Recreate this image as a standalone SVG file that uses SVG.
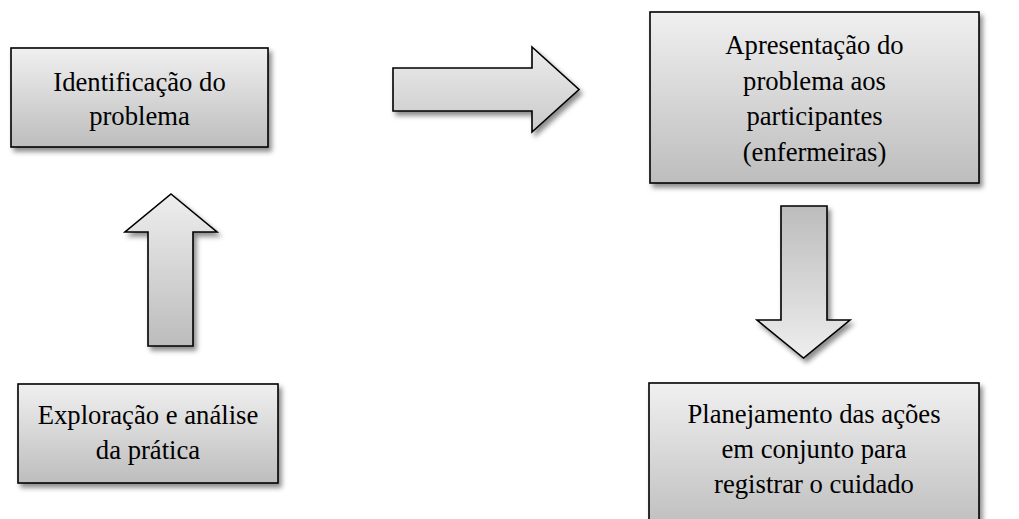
<svg xmlns="http://www.w3.org/2000/svg" width="1019" height="519" viewBox="0 0 1019 519">
<defs>
<linearGradient id="gBox" x1="0" y1="0" x2="0" y2="1">
<stop offset="0" stop-color="#f0f0f0"/>
<stop offset="1" stop-color="#bdbdbd"/>
</linearGradient>
<linearGradient id="gUp" x1="0" y1="0" x2="0" y2="1">
<stop offset="0" stop-color="#eeeeee"/>
<stop offset="1" stop-color="#bcbcbc"/>
</linearGradient>
<linearGradient id="gDown" x1="0" y1="0" x2="0" y2="1">
<stop offset="0" stop-color="#bcbcbc"/>
<stop offset="1" stop-color="#eeeeee"/>
</linearGradient>
<linearGradient id="gRight" x1="0" y1="0" x2="0" y2="1">
<stop offset="0" stop-color="#ececec"/>
<stop offset="1" stop-color="#cacaca"/>
</linearGradient>
<filter id="sh" x="-10%" y="-10%" width="130%" height="130%">
<feDropShadow dx="3" dy="4" stdDeviation="2.5" flood-color="#000" flood-opacity="0.45"/>
</filter>
</defs>
<style>
.box{stroke:#000;stroke-width:1.6;fill:url(#gBox);filter:url(#sh)}
.arr{stroke:#000;stroke-width:1.6;stroke-linejoin:miter;filter:url(#sh)}
text{font-family:'Liberation Serif','Times New Roman',serif;font-size:26.67px;fill:#000;text-anchor:middle}
</style>
<rect width="1019" height="519" fill="#ffffff"/>
<g id="connectors">
<polygon class="arr" fill="url(#gRight)" points="393,68 532,68 532,47 579,89.5 532,132 532,111 393,111"/>
<polygon class="arr" fill="url(#gUp)" points="171,194 217,232 193,232 193,346 148,346 148,232 125,232"/>
<polygon class="arr" fill="url(#gDown)" points="781,206 827,206 827,320 850,320 803.5,358 757,320 781,320"/>
</g>
<g id="node-identificacao">
<rect class="box" x="11" y="48" width="257" height="99"/>
<text x="139.5" y="91">Identificação do</text>
<text x="139.5" y="125">problema</text>
</g>
<g id="node-apresentacao">
<rect class="box" x="650" y="12" width="329" height="171"/>
<text x="814.5" y="54">Apresentação do</text>
<text x="814.5" y="89.5">problema aos</text>
<text x="814.5" y="125">participantes</text>
<text x="814.5" y="160.5">(enfermeiras)</text>
</g>
<g id="node-exploracao">
<rect class="box" x="18" y="384" width="260" height="99"/>
<text x="148" y="424">Exploração e análise</text>
<text x="148" y="459">da prática</text>
</g>
<g id="node-planejamento">
<rect class="box" x="649" y="383" width="330" height="150"/>
<text x="814" y="423">Planejamento das ações</text>
<text x="814" y="458">em conjunto para</text>
<text x="814" y="493">registrar o cuidado</text>
</g>
</svg>
